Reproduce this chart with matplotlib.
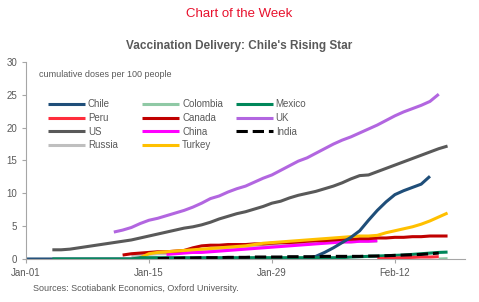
import matplotlib.pyplot as plt
import numpy as np

plt.rcParams['font.family'] = ['Liberation Sans', 'DejaVu Sans']

# dias desde 01-jan
tick_days = [0, 14, 28, 42]
tick_labels = ['Jan-01', 'Jan-15', 'Jan-29', 'Feb-12']

chile_start = 0
chile = [0.0] * 33 + [0.4, 1.0, 1.7, 2.5, 3.3, 4.3, 5.9, 7.4, 8.7, 9.8, 10.4, 10.9, 11.4, 12.6]

colombia_start = 47
colombia = [0.0, 0.05]

mexico_start = 3
mexico = [0.0] * 10 + [0.2] * 24 + [0.3, 0.35, 0.4, 0.45, 0.5, 0.55, 0.6, 0.7, 0.8, 0.9, 1.0, 1.05]

peru_start = 40
peru = [0.05, 0.1, 0.15, 0.2, 0.25, 0.3, 0.3, 0.35]

canada_start = 11
canada = [0.6, 0.8, 0.9, 1.0, 1.1, 1.1, 1.2, 1.3, 1.7, 2.0, 2.1, 2.1, 2.2, 2.2, 2.2, 2.3,
          2.3, 2.4, 2.5, 2.5, 2.6, 2.7, 2.8, 2.8, 2.9, 3.0, 3.0, 3.1, 3.1, 3.2, 3.2, 3.3,
          3.3, 3.4, 3.4, 3.5, 3.5, 3.5]

uk_start = 10
uk = [4.1, 4.4, 4.8, 5.4, 5.9, 6.2, 6.6, 7.0, 7.4, 7.9, 8.5, 9.2, 9.6, 10.2, 10.7, 11.1,
      11.7, 12.3, 12.8, 13.5, 14.2, 14.9, 15.4, 16.1, 16.8, 17.5, 18.1, 18.6, 19.2, 19.8,
      20.4, 21.1, 21.8, 22.4, 22.9, 23.4, 24.0, 25.1]

us_start = 3
us = [1.4, 1.4, 1.5, 1.7, 1.9, 2.1, 2.3, 2.5, 2.7, 2.9, 3.2, 3.5, 3.8, 4.1, 4.4, 4.7, 4.9,
      5.2, 5.6, 6.1, 6.5, 6.9, 7.2, 7.6, 8.0, 8.5, 8.8, 9.3, 9.7, 10.0, 10.3, 10.7, 11.1,
      11.6, 12.2, 12.7, 12.8, 13.3, 13.8, 14.3, 14.8, 15.3, 15.8, 16.3, 16.8, 17.2]

china_start = 16
china = [0.7, 0.8, 0.9, 1.0, 1.0, 1.1, 1.2, 1.3, 1.4, 1.5, 1.6, 1.7, 1.8, 1.9, 2.0, 2.1,
         2.2, 2.3, 2.4, 2.5, 2.6, 2.6, 2.7, 2.7, 2.8]

india_start = 15
india = [0.05, 0.1, 0.1, 0.15, 0.15, 0.2, 0.2, 0.2, 0.25, 0.25, 0.25, 0.3, 0.3, 0.3, 0.3,
         0.35, 0.35, 0.35, 0.35, 0.4, 0.4, 0.4, 0.4, 0.4, 0.45, 0.45, 0.5, 0.55, 0.6, 0.65,
         0.7, 0.8, 0.9]

russia_start = 12
russia = [0.5, 0.6, 0.7, 0.8, 0.8, 0.9, 1.0, 1.1, 1.2, 1.3, 1.4, 1.5, 1.6, 1.7, 1.8, 1.9,
          2.0, 2.1, 2.2, 2.3, 2.3, 2.4, 2.5, 2.5, 2.6, 2.6, 2.7, 2.7, 2.7]

turkey_start = 13
turkey = [0.2, 0.8, 1.0, 1.1, 1.2, 1.3, 1.4, 1.5, 1.6, 1.7, 1.8, 1.9, 2.0, 2.2, 2.4, 2.5,
          2.6, 2.7, 2.8, 2.9, 3.0, 3.1, 3.2, 3.3, 3.4, 3.5, 3.5, 3.6, 4.0, 4.3, 4.6, 4.9,
          5.3, 5.8, 6.4, 7.0]

series = [
    ('Chile', chile_start, chile, '#1F4E79', '-'),
    ('Colombia', colombia_start, colombia, '#8FC9A5', '-'),
    ('Mexico', mexico_start, mexico, '#00875A', '-'),
    ('Peru', peru_start, peru, '#FF2D3C', '-'),
    ('Canada', canada_start, canada, '#C00000', '-'),
    ('UK', uk_start, uk, '#B266E0', '-'),
    ('US', us_start, us, '#595959', '-'),
    ('China', china_start, china, '#FF00FF', '-'),
    ('India', india_start, india, '#000000', '--'),
    ('Russia', russia_start, russia, '#BFBFBF', '-'),
    ('Turkey', turkey_start, turkey, '#FFC000', '-'),
]

fig = plt.figure(figsize=(4.79, 3.02), dpi=100)
ax = fig.add_axes([0.0543, 0.1424, 0.9167, 0.6523])

linhas = {}
# ordem de desenho: os de baixo primeiro
ordem = ['Russia', 'China', 'Canada', 'Turkey', 'UK', 'US', 'Chile', 'Mexico', 'Colombia', 'Peru', 'India']
for nome in ordem:
    for s in series:
        if s[0] == nome:
            x = np.arange(len(s[2])) + s[1]
            ln, = ax.plot(x, s[2], color=s[3], linestyle=s[4], linewidth=2.2, label=nome,
                          solid_capstyle='butt')
            linhas[nome] = ln

ax.set_xlim(0, 50)
ax.set_ylim(0, 30)
ax.set_yticks(range(0, 31, 5))
ax.set_xticks(tick_days)
ax.set_xticklabels(tick_labels)
for sp in ['top', 'right']:
    ax.spines[sp].set_visible(False)
for sp in ['left', 'bottom']:
    ax.spines[sp].set_color('#A6A6A6')
    ax.spines[sp].set_linewidth(0.8)
ax.tick_params(colors='#A6A6A6', labelcolor='#595959', labelsize=7, length=3, width=0.8)

# legenda: uma por coluna, com largura fixa como no Excel
colunas = [(['Chile', 'Peru', 'US', 'Russia'], 0.03),
           (['Colombia', 'Canada', 'China', 'Turkey'], 0.245),
           (['Mexico', 'UK', 'India'], 0.458)]
for i, (nomes, x0) in enumerate(colunas):
    leg = ax.legend([linhas[n] for n in nomes], nomes, frameon=False,
                    loc='upper left', bbox_to_anchor=(x0, 0.855), fontsize=7,
                    labelcolor='#595959', handlelength=3.8, handletextpad=0.3,
                    labelspacing=0.38)
    if i < len(colunas) - 1:
        ax.add_artist(leg)

ax.text(0.03, 0.96, 'cumulative doses per 100 people', transform=ax.transAxes,
        fontsize=6.5, color='#595959', va='top')

fig.text(0.5, 0.952, 'Chart of the Week', ha='center', va='center', fontsize=9.5,
         color='#E8112D')
fig.text(0.5, 0.848, "Vaccination Delivery: Chile's Rising Star", ha='center', va='center',
         fontsize=8.5, color='#595959', fontweight='bold')
fig.text(0.068, 0.045, 'Sources: Scotiabank Economics, Oxford University.', ha='left',
         va='center', fontsize=6.5, color='#595959')

fig.savefig('out.png', dpi=100)
